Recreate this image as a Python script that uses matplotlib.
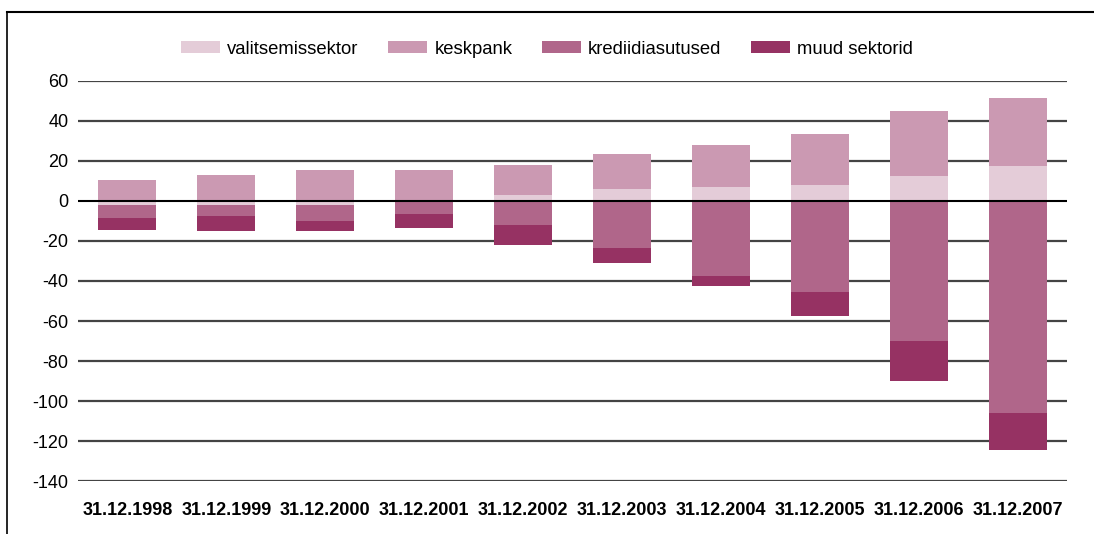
import matplotlib
matplotlib.use("Agg")
import matplotlib.pyplot as plt
from matplotlib.lines import Line2D
import numpy as np

categories = ["31.12.1998", "31.12.1999", "31.12.2000", "31.12.2001", "31.12.2002",
              "31.12.2003", "31.12.2004", "31.12.2005", "31.12.2006", "31.12.2007"]
valitsemissektor = [-1.8, -1.8, -1.8, 0.7, 3, 6, 7, 8, 12.5, 17.5]
keskpank = [10.5, 13, 15.5, 14.8, 15, 17.5, 21, 25.5, 32.5, 34]
krediidiasutused = [-6.7, -5.7, -8.2, -6.5, -12, -23.5, -37.5, -45.5, -70, -106]
muud_sektorid = [-6, -7.5, -5, -7, -10, -7.5, -5, -12, -20, -18.5]

series = [("valitsemissektor", valitsemissektor, "#E4CCD8"),
          ("keskpank", keskpank, "#CB99B2"),
          ("krediidiasutused", krediidiasutused, "#B0668A"),
          ("muud sektorid", muud_sektorid, "#963263")]

plt.rcParams["font.family"] = ["Liberation Sans", "DejaVu Sans"]

fig = plt.figure(figsize=(10.94, 5.34), dpi=100)
ax = fig.add_axes([78 / 1094, 53 / 534, (1067 - 78) / 1094, 400 / 534])

x = np.arange(len(categories))
pos_base = np.zeros(len(categories))
neg_base = np.zeros(len(categories))
handles = []
for name, vals, col in series:
    v = np.array(vals, dtype=float)
    bottoms = np.where(v >= 0, pos_base, neg_base)
    b = ax.bar(x, v, 0.587, bottom=bottoms, color=col, label=name, zorder=2, linewidth=0)
    pos_base = pos_base + np.where(v >= 0, v, 0)
    neg_base = neg_base + np.where(v < 0, v, 0)
    handles.append(b)

ax.set_xlim(-0.5, len(categories) - 0.5)
ax.set_ylim(-140, 60)
yt = np.arange(-140, 61, 20)
ax.set_yticks(yt)
ax.set_yticklabels([str(t) for t in yt], fontsize=13)
for t in yt:
    if t == 0:
        ax.axhline(0, color="black", lw=1.5, zorder=3)
    else:
        ax.axhline(t, color="#444444", lw=1.6, zorder=1)
ax.set_xticks(x)
ax.set_xticklabels(categories, fontsize=13, fontweight="bold")
ax.tick_params(axis="both", length=0)
ax.tick_params(axis="x", pad=15)
ax.tick_params(axis="y", pad=7)
for s in ax.spines.values():
    s.set_visible(False)

fig.legend(handles=handles, loc="center", bbox_to_anchor=(0.5, 1 - 49 / 534), ncol=4,
           frameon=False, fontsize=13.3, handlelength=2.1, handleheight=0.55,
           handletextpad=0.4, columnspacing=1.6)

# frame lines
fig.add_artist(Line2D([7 / 1094, 1.0], [1 - 11.5 / 534, 1 - 11.5 / 534],
                      transform=fig.transFigure, color="black", lw=1.5))
fig.add_artist(Line2D([7 / 1094, 7 / 1094], [0, 1 - 11.5 / 534],
                      transform=fig.transFigure, color="black", lw=1.2))

fig.savefig("out.png", dpi=100)
